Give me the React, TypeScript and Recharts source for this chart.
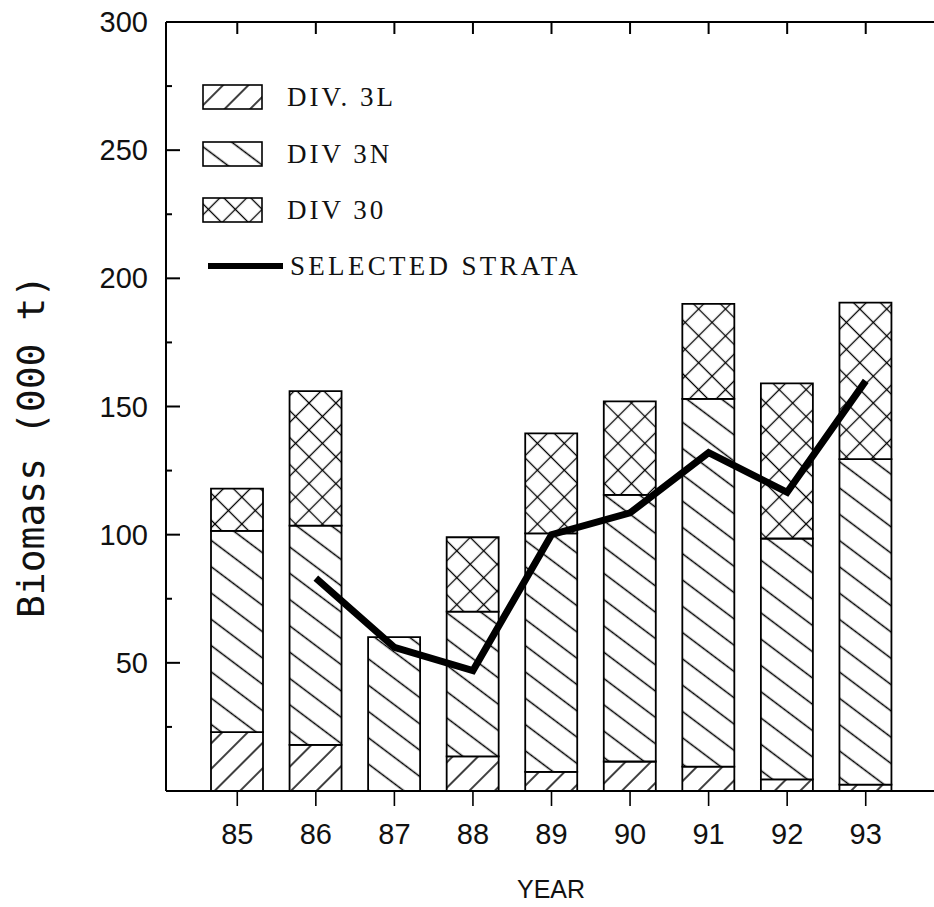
import React from 'react';
import { ComposedChart, Bar, Line, XAxis, YAxis, Legend, Label } from 'recharts';

const years = ['85', '86', '87', '88', '89', '90', '91', '92', '93'];
const div3L = [23, 18, 0, 13.5, 7.5, 11.5, 9.5, 4.5, 2.5];
const div3N = [78.5, 85.5, 60, 56.5, 93, 104, 143.5, 94, 127];
const div3O = [16.5, 52.5, 0, 29, 39, 36.5, 37, 60.5, 61];
const selectedStrata = [null, 83, 56, 47, 100, 108.5, 132, 116.5, 160];

const yTicks = [0, 25, 50, 75, 100, 125, 150, 175, 200, 225, 250, 275, 300];
const yLabelValues = [50, 100, 150, 200, 250, 300];
const Y_MAX = 300;

const legendItems = ['DIV. 3L', 'DIV 3N', 'DIV 30', 'SELECTED STRATA'];

const data = years.map((year, i) => ({
  year,
  div3L: div3L[i],
  div3N: div3N[i],
  div3O: div3O[i],
  selected: selectedStrata[i],
  frameTop: Y_MAX,
}));

const INK = '#000';
const PLOT_TOP = 22;

const Patterns = ({ prefix }: { prefix: string }) => (
  <defs>
    <pattern id={`${prefix}-3l`} patternUnits="userSpaceOnUse" width={40} height={18} patternTransform="rotate(-45)">
      <rect width={40} height={18} fill="#fff" />
      <line x1={0} y1={9} x2={40} y2={9} stroke={INK} strokeWidth={1.3} />
    </pattern>
    <pattern id={`${prefix}-3n`} patternUnits="userSpaceOnUse" width={40} height={21} patternTransform="rotate(37)">
      <rect width={40} height={21} fill="#fff" />
      <line x1={0} y1={10.5} x2={40} y2={10.5} stroke={INK} strokeWidth={1.3} />
    </pattern>
    <pattern id={`${prefix}-3o`} patternUnits="userSpaceOnUse" width={19} height={19} patternTransform="rotate(45)">
      <rect width={19} height={19} fill="#fff" />
      <line x1={0} y1={9.5} x2={19} y2={9.5} stroke={INK} strokeWidth={1.3} />
      <line x1={9.5} y1={0} x2={9.5} y2={19} stroke={INK} strokeWidth={1.3} />
    </pattern>
  </defs>
);

const LeftTick = (props: any) => {
  const { x, y, payload } = props;
  const v = payload.value;
  const major = v % 50 === 0;
  const ax = x + 18;
  return (
    <g>
      {v > 0 && v < 300 && (
        <line x1={ax} x2={ax + (major ? 14 : 6)} y1={y} y2={y} stroke={INK} strokeWidth={2} />
      )}
      {yLabelValues.includes(v) && (
        <text
          x={x}
          y={y}
          textAnchor="end"
          dominantBaseline="central"
          fontFamily="Liberation Sans, Arial, sans-serif"
          fontSize={29}
          fill="#111"
        >
          {v}
        </text>
      )}
    </g>
  );
};

const RightTick = (props: any) => {
  const { x, y, payload } = props;
  const v = payload.value;
  const major = v % 50 === 0;
  if (v <= 0 || v >= 300) return <g />;
  return <line x1={x} x2={x - (major ? 14 : 6)} y1={y} y2={y} stroke={INK} strokeWidth={2} />;
};

const TopTickDot = (props: any) => {
  const { cx, cy, index } = props;
  if (cx == null || cy == null) return <g key={`td-${index}`} />;
  return <line key={`td-${index}`} x1={cx} x2={cx} y1={cy} y2={cy + 12} stroke={INK} strokeWidth={2} />;
};

const serif = 'Liberation Serif, Times New Roman, serif';

const renderLegend = () => {
  const fills = ['lg-3l', 'lg-3n', 'lg-3o'];
  const rowY = [22, 79, 135];
  return (
    <svg width={420} height={220} style={{ overflow: 'visible' }}>
      <Patterns prefix="lg" />
      {fills.map((f, i) => (
        <g key={f}>
          <rect x={8} y={rowY[i] - 12} width={59} height={24} fill={`url(#${f})`} stroke={INK} strokeWidth={1.6} />
          <text
            x={92}
            y={rowY[i]}
            dominantBaseline="central"
            fontFamily={serif}
            fontSize={27}
            letterSpacing={3}
            fill="#111"
          >
            {legendItems[i]}
          </text>
        </g>
      ))}
      <line x1={13} x2={88} y1={191} y2={191} stroke={INK} strokeWidth={6} />
      <text x={95} y={191} dominantBaseline="central" fontFamily={serif} fontSize={27} letterSpacing={3.3} fill="#111">
        {legendItems[3]}
      </text>
    </svg>
  );
};

export default function App() {
  return (
    <div style={{ position: 'absolute', left: 0, top: 0, width: 934, height: 907, overflow: 'hidden', background: '#fff' }}>
      <ComposedChart width={945} height={907} data={data} margin={{ top: 0, right: 0, bottom: 0, left: 0 }}>
        <Patterns prefix="ch" />
        <XAxis
          dataKey="year"
          xAxisId={0}
          height={116}
          padding={{ left: 32, right: 31 }}
          axisLine={{ stroke: INK, strokeWidth: 2 }}
          tickLine={{ stroke: INK, strokeWidth: 1.6 }}
          tickSize={15}
          tickMargin={17}
          interval={0}
          tick={{ fontFamily: 'Liberation Sans, Arial, sans-serif', fontSize: 29, fill: '#111' }}
        >
          <Label
            content={(p: any) => {
              const vb = p.viewBox || { x: 166, y: 791, width: 770, height: 116 };
              return (
                <text
                  x={vb.x + vb.width / 2}
                  y={vb.y + vb.height - 9}
                  textAnchor="middle"
                  fontFamily="Liberation Sans, Arial, sans-serif"
                  fontSize={25}
                  fill="#111"
                >
                  YEAR
                </text>
              );
            }}
          />
        </XAxis>
        <XAxis
          dataKey="year"
          xAxisId="top"
          orientation="top"
          type="category"
          height={PLOT_TOP}
          padding={{ left: 32, right: 31 }}
          axisLine={{ stroke: INK, strokeWidth: 2 }}
          tickLine={false}
          tick={false}
        />
        <YAxis
          yAxisId={0}
          width={166}
          domain={[0, Y_MAX]}
          type="number"
          ticks={yTicks}
          interval={0}
          axisLine={{ stroke: INK, strokeWidth: 2 }}
          tickLine={false}
          tickSize={0}
          tickMargin={18}
          tick={<LeftTick />}
        >
          <Label
            content={(p: any) => {
              const vb = p.viewBox || { x: 0, y: 22, width: 166, height: 769 };
              const cx = vb.x + 44;
              const cy = vb.y + vb.height / 2 + 40;
              return (
                <text
                  x={cx}
                  y={cy}
                  textAnchor="middle"
                  transform={`rotate(-90, ${cx}, ${cy})`}
                  fontFamily="DejaVu Sans Mono, monospace"
                  fontSize={38}
                  fill="#111"
                >
                  Biomass (000 t)
                </text>
              );
            }}
          />
        </YAxis>
        <YAxis
          yAxisId="right"
          orientation="right"
          width={9}
          domain={[0, Y_MAX]}
          type="number"
          ticks={yTicks}
          interval={0}
          axisLine={{ stroke: INK, strokeWidth: 2 }}
          tickLine={false}
          tickSize={0}
          tickMargin={0}
          tick={<RightTick />}
        />
        <Legend
          layout="vertical"
          align="center"
          verticalAlign="middle"
          content={renderLegend}
          wrapperStyle={{ position: 'absolute', left: 195, top: 75, width: 420, height: 220 }}
        />
        <Bar dataKey="div3L" stackId="a" barSize={52} fill="url(#ch-3l)" stroke={INK} strokeWidth={1.8} isAnimationActive={false} />
        <Bar dataKey="div3N" stackId="a" barSize={52} fill="url(#ch-3n)" stroke={INK} strokeWidth={1.8} isAnimationActive={false} />
        <Bar dataKey="div3O" stackId="a" barSize={52} fill="url(#ch-3o)" stroke={INK} strokeWidth={1.8} isAnimationActive={false} />
        <Line dataKey="selected" type="linear" stroke={INK} strokeWidth={7} dot={false} activeDot={false} isAnimationActive={false} />
        <Line
          dataKey="frameTop"
          type="linear"
          stroke="none"
          strokeWidth={0}
          dot={<TopTickDot />}
          activeDot={false}
          legendType="none"
          isAnimationActive={false}
        />
      </ComposedChart>
    </div>
  );
}
